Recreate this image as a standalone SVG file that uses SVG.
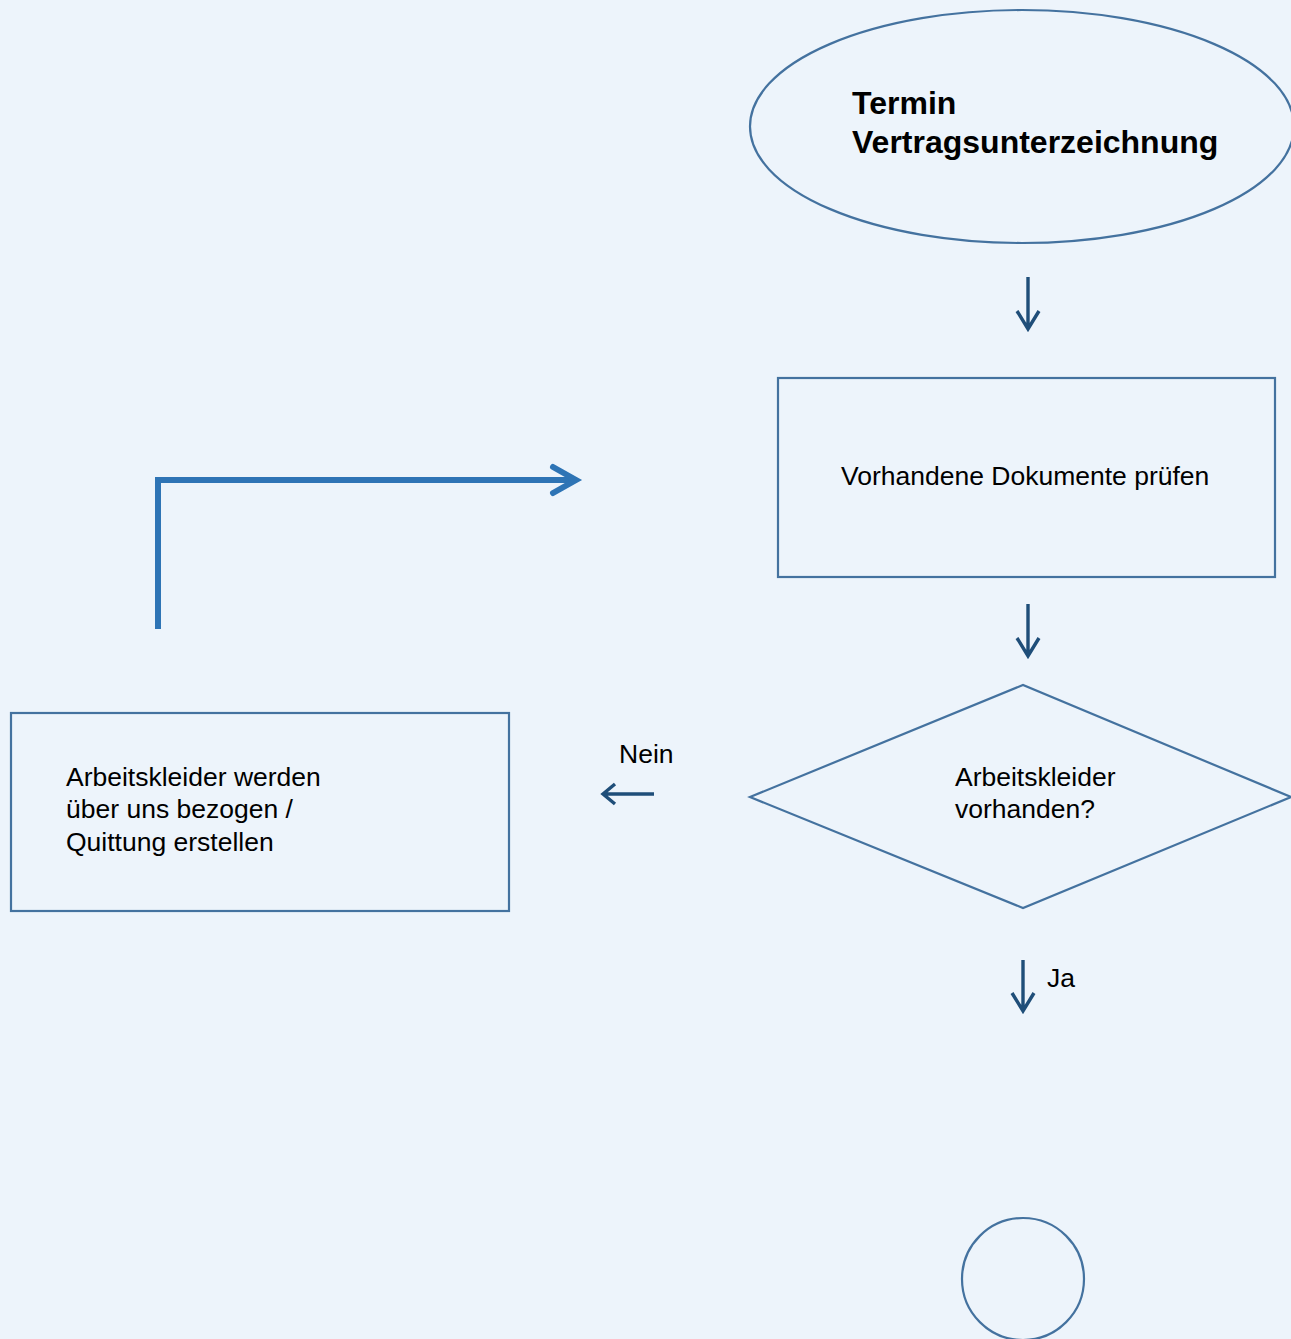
<svg xmlns="http://www.w3.org/2000/svg" width="1291" height="1339" viewBox="0 0 1291 1339">
<style>
.node{fill:none;stroke:#44729F;stroke-width:2.2}
.t{font-family:"Liberation Sans",Arial,sans-serif;font-size:26.5px;fill:#000}
.tb{font-family:"Liberation Sans",Arial,sans-serif;font-size:32px;font-weight:bold;fill:#000}
.arr{fill:none;stroke:#1F4E79;stroke-width:3.4;stroke-linecap:butt;stroke-linejoin:miter}
.big{fill:none;stroke:#2E74B5;stroke-width:6;stroke-linejoin:miter}
</style>
<rect x="0" y="0" width="1291" height="1339" fill="#EDF4FB"/>
<g id="start">
<ellipse class="node" cx="1022" cy="126.5" rx="272" ry="116.5"/>
<text class="tb" x="852" y="114">Termin</text>
<text class="tb" x="852" y="153">Vertragsunterzeichnung</text>
</g>
<g id="pruefen">
<rect class="node" x="778" y="378" width="497" height="199"/>
<text class="t" x="841" y="485">Vorhandene Dokumente prüfen</text>
</g>
<g id="entscheidung">
<polygon class="node" points="750,797 1023,685 1291,797 1023,908"/>
<text class="t" x="955" y="786">Arbeitskleider</text>
<text class="t" x="955" y="818">vorhanden?</text>
</g>
<g id="bezug">
<rect class="node" x="11" y="713" width="498" height="198"/>
<text class="t" x="66" y="786">Arbeitskleider werden</text>
<text class="t" x="66" y="818">über uns bezogen /</text>
<text class="t" x="66" y="851">Quittung erstellen</text>
</g>
<g id="ende">
<circle class="node" cx="1023" cy="1279" r="61"/>
</g>
<g id="connectors">
<path class="arr" d="M1028,277 V329 M1017,311 L1028,329 L1039,311"/>
<path class="arr" d="M1028,604 V656 M1017,638 L1028,656 L1039,638"/>
<path class="arr" d="M1023,960 V1011 M1012,993 L1023,1011 L1034,993"/>
<path class="arr" d="M654,794 H603 M615,784 L603,794 L615,804"/>
<path class="big" d="M158,629 V480 H576"/>
<path class="big" stroke-linecap="round" d="M553,467 L576,480 L553,493"/>
<text class="t" x="619" y="763">Nein</text>
<text class="t" x="1047" y="987">Ja</text>
</g>
</svg>
